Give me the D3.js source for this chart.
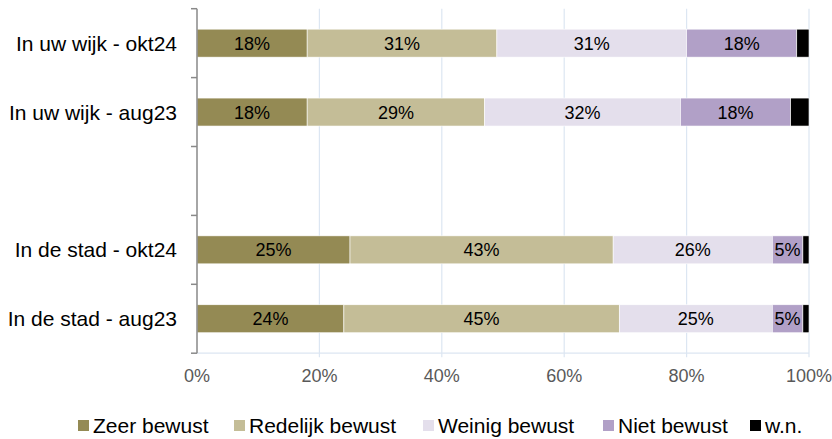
<!DOCTYPE html>
<html>
<head>
<meta charset="utf-8">
<script src="https://cdn.jsdelivr.net/npm/d3@7"></script>
<style>
html,body{margin:0;padding:0;background:#fff;}
svg{display:block;font-family:"Liberation Sans",Arial,sans-serif;}
</style>
</head>
<body>
<svg id="chart" width="832" height="439"></svg>
<script>
const categories = ["In uw wijk - okt24", "In uw wijk - aug23", "", "In de stad - okt24", "In de stad - aug23"];
const seriesNames = ["Zeer bewust", "Redelijk bewust", "Weinig bewust", "Niet bewust", "w.n."];
const zeer     = [18, 18, null, 25, 24];
const redelijk = [31, 29, null, 43, 45];
const weinig   = [31, 32, null, 26, 25];
const niet     = [18, 18, null, 5, 5];
const wn       = [2, 3, null, 1, 1];
const xTicks = [0, 20, 40, 60, 80, 100];
const colors = ["#948A54", "#C4BD97", "#E4DFEC", "#B1A0C7", "#000000"];
const showLabel = [true, true, true, true, false];

(function () {
const seriesValues = [zeer, redelijk, weinig, niet, wn];
const svg = d3.select("#chart");
const pLeft = 197, pRight = 809, pTop = 8.7, pBottom = 353.2;

const x = d3.scaleLinear().domain([0, 100]).range([pLeft, pRight]);
const y = d3.scaleBand().domain(d3.range(categories.length)).range([pTop, pBottom])
  .paddingInner(0.594).paddingOuter(0.297);
const slot = y.step();

// gridlines
svg.append("g").selectAll("line").data(xTicks.filter(d => d > 0)).join("line")
  .attr("x1", d => x(d)).attr("x2", d => x(d))
  .attr("y1", pTop).attr("y2", pBottom + 4)
  .attr("stroke", "#DCE6F2").attr("stroke-width", 1.2);
svg.append("line").attr("x1", pLeft).attr("x2", pRight).attr("y1", pBottom).attr("y2", pBottom)
  .attr("stroke", "#DCE6F2").attr("stroke-width", 1.2);

// stacked bars
const rows = categories.map((c, i) => {
  let acc = 0;
  return seriesValues.map((arr, s) => {
    const v = arr[i];
    if (v == null) return null;
    const seg = {row: i, s, x0: acc, x1: acc + v, v};
    acc += v;
    return seg;
  }).filter(d => d);
}).flat();

const g = svg.append("g");
g.selectAll("rect").data(rows).join("rect")
  .attr("x", d => x(d.x0)).attr("width", d => x(d.x1) - x(d.x0))
  .attr("y", d => y(d.row)).attr("height", y.bandwidth())
  .attr("fill", d => colors[d.s])
  .attr("stroke", "#fff").attr("stroke-width", 0.6);

g.selectAll("text").data(rows.filter(d => showLabel[d.s])).join("text")
  .attr("x", d => (x(d.x0) + x(d.x1)) / 2)
  .attr("y", d => y(d.row) + y.bandwidth() / 2)
  .attr("dy", "0.36em").attr("text-anchor", "middle")
  .attr("font-size", 18).attr("fill", "#000")
  .text(d => d.v + "%");

// left axis
svg.append("line").attr("x1", pLeft).attr("x2", pLeft).attr("y1", pTop).attr("y2", pBottom)
  .attr("stroke", "#898989").attr("stroke-width", 1.5);
svg.append("g").selectAll("line").data(d3.range(categories.length + 1)).join("line")
  .attr("x1", pLeft - 6).attr("x2", pLeft)
  .attr("y1", d => pTop + d * slot).attr("y2", d => pTop + d * slot)
  .attr("stroke", "#898989").attr("stroke-width", 1.5);

// category labels
svg.append("g").selectAll("text").data(categories).join("text")
  .attr("x", 177).attr("y", (d, i) => y(i) + y.bandwidth() / 2)
  .attr("dy", "0.36em").attr("text-anchor", "end")
  .attr("font-size", 21).attr("fill", "#000")
  .text(d => d);

// x tick labels
svg.append("g").selectAll("text").data(xTicks).join("text")
  .attr("x", d => x(d)).attr("y", 376).attr("dy", "0.36em")
  .attr("text-anchor", "middle").attr("font-size", 18).attr("fill", "#595959")
  .text(d => d + "%");

// legend
const legendX = [78, 234, 423, 603, 750];
const lg = svg.append("g").selectAll("g").data(seriesNames).join("g")
  .attr("transform", (d, i) => `translate(${legendX[i]},425.5)`);
lg.append("rect").attr("x", 0).attr("y", -5.5).attr("width", 11).attr("height", 11)
  .attr("fill", (d, i) => colors[i]);
lg.append("text").attr("x", 15).attr("dy", "0.36em").attr("font-size", 21).attr("fill", "#000")
  .text(d => d);
})();
</script>
</body>
</html>
